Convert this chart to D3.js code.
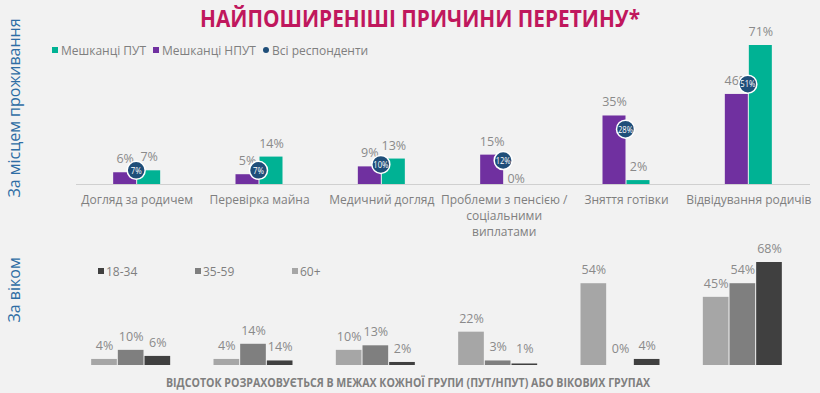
<!DOCTYPE html>
<html>
<head>
<meta charset="utf-8">
<script src="https://cdn.jsdelivr.net/npm/d3@7"></script>
<style>
  body { margin: 0; background: #f2f2f2; }
  svg { display: block; font-family: "Open Sans", sans-serif; }
</style>
</head>
<body>
<svg id="chart" width="820" height="393"></svg>
<script>
// categories (shared by both panels)
var categories = [
  ["Догляд за родичем"],
  ["Перевірка майна"],
  ["Медичний догляд"],
  ["Проблеми з пенсією /", "соціальними", "виплатами"],
  ["Зняття готівки"],
  ["Відвідування родичів"]
];

// top panel: by place of residence
var residenceSeries = ["Мешканці НПУТ", "Мешканці ПУТ"];
var npValues = [6, 5, 9, 15, 35, 46];
var pValues = [7, 14, 13, 0, 2, 71];
var allValues = [7, 7, 10, 12, 28, 51];

// bottom panel: by age (bars drawn left to right: 60+, 35-59, 18-34)
var ageSeries = ["60+", "35-59", "18-34"];
var ageLegend = ["18-34", "35-59", "60+"];
var age60Values = [4, 4, 10, 22, 54, 45];
var age35Values = [10, 14, 13, 3, 0, 54];
var age18Values = [6, 3, 2, 1, 4, 68];
var age18Labels = ["6%", "14%", "2%", "1%", "4%", "68%"];

var colors = {
  "Мешканці НПУТ": "#7030a0",
  "Мешканці ПУТ": "#00b294",
  "Всі респонденти": "#1f4e79",
  "60+": "#a6a6a6",
  "35-59": "#7f7f7f",
  "18-34": "#404040"
};

var svg = d3.select("#chart");
var labelGrey = "#8a8a8a";

// title
svg.append("text")
  .attr("x", 420).attr("y", 27)
  .attr("text-anchor", "middle")
  .attr("font-size", 23).attr("font-weight", "bold")
  .attr("fill", "#c0175d")
  .attr("textLength", 440).attr("lengthAdjust", "spacingAndGlyphs")
  .text("НАЙПОШИРЕНІШІ ПРИЧИНИ ПЕРЕТИНУ*");

// side titles
function sideTitle(txt, cy) {
  svg.append("text")
    .attr("transform", "translate(20," + cy + ") rotate(-90)")
    .attr("text-anchor", "middle")
    .attr("font-size", 16)
    .attr("fill", "#2e6da4")
    .text(txt);
}
sideTitle("За місцем проживання", 108);
sideTitle("За віком", 290);

// ---------- top panel ----------
var topBase = 184;
var x0 = d3.scaleBand().domain(d3.range(categories.length)).range([76, 810]);
var x1 = d3.scaleBand().domain(residenceSeries).range([x0.bandwidth() / 2 - 24, x0.bandwidth() / 2 + 24]);
var yTop = d3.scaleLinear().domain([0, 71]).range([topBase, 45]);

svg.append("line")
  .attr("x1", 76).attr("x2", 810)
  .attr("y1", topBase + 0.5).attr("y2", topBase + 0.5)
  .attr("stroke", "#d0d0d0");

var topData = categories.map(function(c, i) {
  return [
    { s: "Мешканці НПУТ", v: npValues[i] },
    { s: "Мешканці ПУТ", v: pValues[i] }
  ];
});

var topGroups = svg.append("g").selectAll("g")
  .data(topData)
  .enter().append("g")
  .attr("transform", function(d, i) { return "translate(" + x0(i) + ",0)"; });

topGroups.selectAll("rect")
  .data(function(d) { return d; })
  .enter().append("rect")
  .attr("x", function(d) { return x1(d.s); })
  .attr("width", x1.bandwidth() - 1)
  .attr("y", function(d) { return yTop(d.v); })
  .attr("height", function(d) { return topBase - yTop(d.v); })
  .attr("fill", function(d) { return colors[d.s]; });

topGroups.selectAll("text.val")
  .data(function(d) { return d; })
  .enter().append("text")
  .attr("class", "val")
  .attr("x", function(d) { return x1(d.s) + x1.bandwidth() / 2; })
  .attr("y", function(d) { return d.v === 0 ? yTop(d.v) - 1 : yTop(d.v) - 9; })
  .attr("text-anchor", "middle")
  .attr("font-size", 12.5)
  .attr("fill", labelGrey)
  .text(function(d) { return d.v + "%"; });

// dots for all respondents
var dots = svg.append("g").selectAll("g")
  .data(allValues)
  .enter().append("g")
  .attr("transform", function(d, i) { return "translate(" + (x0(i) + x0.bandwidth() / 2 - 1) + "," + yTop(d) + ")"; });
dots.append("circle")
  .attr("r", 9)
  .attr("fill", colors["Всі респонденти"])
  .attr("stroke", "#ffffff").attr("stroke-width", 1.5);
dots.append("text")
  .attr("text-anchor", "middle")
  .attr("dy", "0.35em")
  .attr("font-size", 9.5)
  .attr("fill", "#ffffff")
  .attr("textLength", function(d) { return d >= 10 ? 15 : 11; })
  .attr("lengthAdjust", "spacingAndGlyphs")
  .text(function(d) { return d + "%"; });

// category labels
var catLabels = svg.append("g").selectAll("text")
  .data(categories)
  .enter().append("text")
  .attr("x", function(d, i) { return x0(i) + x0.bandwidth() / 2; })
  .attr("y", 204)
  .attr("text-anchor", "middle")
  .attr("font-size", 12)
  .attr("fill", "#7f7f7f");
catLabels.selectAll("tspan")
  .data(function(d) { return d; })
  .enter().append("tspan")
  .attr("x", function() { return d3.select(this.parentNode).attr("x"); })
  .attr("dy", function(d, i) { return i === 0 ? 0 : 16; })
  .text(function(d) { return d; });

// top legend
var topLegend = [
  { s: "Мешканці ПУТ", x: 52, shape: "rect" },
  { s: "Мешканці НПУТ", x: 153, shape: "rect" },
  { s: "Всі респонденти", x: 263, shape: "circle" }
];
topLegend.forEach(function(l) {
  if (l.shape === "rect") {
    svg.append("rect").attr("x", l.x).attr("y", 47).attr("width", 6).attr("height", 6).attr("fill", colors[l.s]);
  } else {
    svg.append("circle").attr("cx", l.x + 3).attr("cy", 50).attr("r", 3).attr("fill", colors[l.s]);
  }
  svg.append("text").attr("x", l.x + 9).attr("y", 54.5)
    .attr("font-size", 12).attr("fill", "#7f7f7f").text(l.s);
});

// ---------- bottom panel ----------
var botBase = 365;
var b0 = d3.scaleBand().domain(d3.range(categories.length)).range([70, 804]);
var b1 = d3.scaleBand().domain(ageSeries).range([b0.bandwidth() / 2 - 40, b0.bandwidth() / 2 + 40]);
var yBot = d3.scaleLinear().domain([0, 68]).range([botBase, 262]);

var botData = categories.map(function(c, i) {
  return [
    { s: "60+", v: age60Values[i], t: age60Values[i] + "%" },
    { s: "35-59", v: age35Values[i], t: age35Values[i] + "%" },
    { s: "18-34", v: age18Values[i], t: age18Labels[i] }
  ];
});

var botGroups = svg.append("g").selectAll("g")
  .data(botData)
  .enter().append("g")
  .attr("transform", function(d, i) { return "translate(" + b0(i) + ",0)"; });

botGroups.selectAll("rect")
  .data(function(d) { return d; })
  .enter().append("rect")
  .attr("x", function(d) { return b1(d.s); })
  .attr("width", b1.bandwidth() - 1)
  .attr("y", function(d) { return yBot(d.v); })
  .attr("height", function(d) { return botBase - yBot(d.v); })
  .attr("fill", function(d) { return colors[d.s]; });

botGroups.selectAll("text.val")
  .data(function(d) { return d; })
  .enter().append("text")
  .attr("class", "val")
  .attr("x", function(d) { return b1(d.s) + b1.bandwidth() / 2; })
  .attr("y", function(d) {
    // labels stay clear of the short bars, as in the source
    return Math.min(yBot(d.v) - 9, 353);
  })
  .attr("text-anchor", "middle")
  .attr("font-size", 12.5)
  .attr("fill", labelGrey)
  .text(function(d) { return d.t; });

// bottom legend
ageLegend.forEach(function(s, i) {
  var lx = 98 + i * 97;
  svg.append("rect").attr("x", lx).attr("y", 268).attr("width", 6).attr("height", 6).attr("fill", colors[s]);
  svg.append("text").attr("x", lx + 8).attr("y", 275.5)
    .attr("font-size", 12).attr("fill", "#7f7f7f").text(s);
});

// footnote
svg.append("text")
  .attr("x", 408).attr("y", 387)
  .attr("text-anchor", "middle")
  .attr("font-size", 12).attr("font-weight", "bold")
  .attr("fill", "#7f7f7f")
  .attr("textLength", 484).attr("lengthAdjust", "spacingAndGlyphs")
  .text("ВІДСОТОК РОЗРАХОВУЄТЬСЯ В МЕЖАХ КОЖНОЇ ГРУПИ (ПУТ/НПУТ) АБО ВІКОВИХ ГРУПАХ");
</script>
</body>
</html>
